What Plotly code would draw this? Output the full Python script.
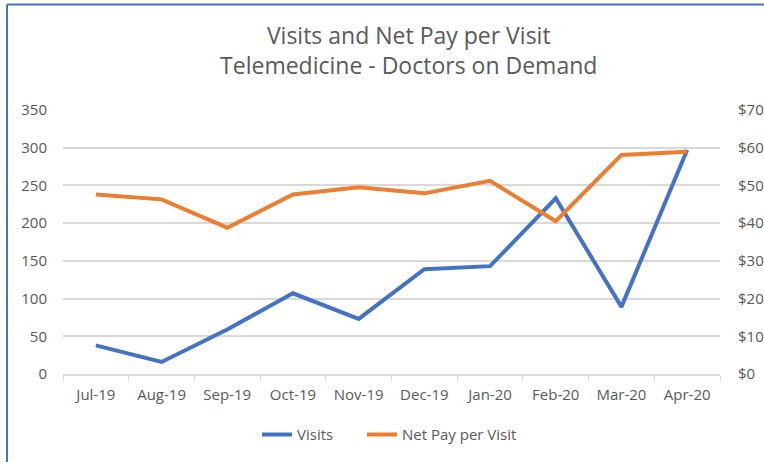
import plotly.graph_objects as go

months = ['Jul-19', 'Aug-19', 'Sep-19', 'Oct-19', 'Nov-19',
          'Dec-19', 'Jan-20', 'Feb-20', 'Mar-20', 'Apr-20']
visits = [38, 16, 59, 107, 73, 139, 143, 233, 89, 297]
net_pay = [47.6, 46.3, 38.8, 47.6, 49.5, 47.9, 51.2, 40.5, 58.1, 58.9]

blue = '#4472C4'
orange = '#ED7D31'
grid = '#D9D9D9'
text = '#595959'

fig = go.Figure()

fig.add_trace(go.Scatter(
    x=months, y=visits, name='Visits', mode='lines',
    line=dict(color=blue, width=4), yaxis='y', legend='legend'
))
fig.add_trace(go.Scatter(
    x=months, y=net_pay, name='Net Pay per Visit', mode='lines',
    line=dict(color=orange, width=4), yaxis='y2', legend='legend2'
))

legend_style = dict(orientation='h', xanchor='left', y=-0.225, yanchor='middle',
                    font=dict(size=15, color=text), bgcolor='rgba(0,0,0,0)')

fig.update_layout(
    width=764, height=462,
    margin=dict(l=63, r=44, t=110, b=87),
    paper_bgcolor='white', plot_bgcolor='white',
    font=dict(family='Open Sans, Noto Sans, sans-serif', size=15, color=text),
    title=dict(
        text='Visits and Net Pay per Visit<br>Telemedicine - Doctors on Demand',
        x=0.535, xanchor='center', y=0.905, yanchor='top',
        font=dict(size=23, color=text)
    ),
    xaxis=dict(
        type='category', range=[-0.5, 9.5], tickson='boundaries',
        ticks='outside', ticklen=5, tickcolor=grid,
        showline=True, linecolor=grid, linewidth=1.5,
        showgrid=False, ticklabelstandoff=6, automargin=False
    ),
    yaxis=dict(
        range=[0, 350], dtick=50, gridcolor=grid, gridwidth=1.5,
        zeroline=False, ticks='outside', ticklen=12,
        tickcolor='rgba(0,0,0,0)', automargin=False
    ),
    yaxis2=dict(
        range=[0, 70], dtick=10, tickprefix='$', overlaying='y', side='right',
        showgrid=False, zeroline=False, ticks='outside', ticklen=14,
        tickcolor='rgba(0,0,0,0)', automargin=False
    ),
    legend=dict(x=0.2953, **legend_style),
    legend2=dict(x=0.4551, **legend_style),
    showlegend=True,
)

# chart frame (only the left and top edges are in view)
fig.add_shape(type='line', xref='paper', yref='paper',
              x0=-0.0852, x1=-0.0852, y0=-0.4, y1=1.40,
              line=dict(color=blue, width=2))
fig.add_shape(type='line', xref='paper', yref='paper',
              x0=-0.0852, x1=1.2, y0=1.40, y1=1.40,
              line=dict(color=blue, width=2))

fig.write_html("out.html", config={'displayModeBar': False},
               post_script="document.body.style.margin='0px';")
